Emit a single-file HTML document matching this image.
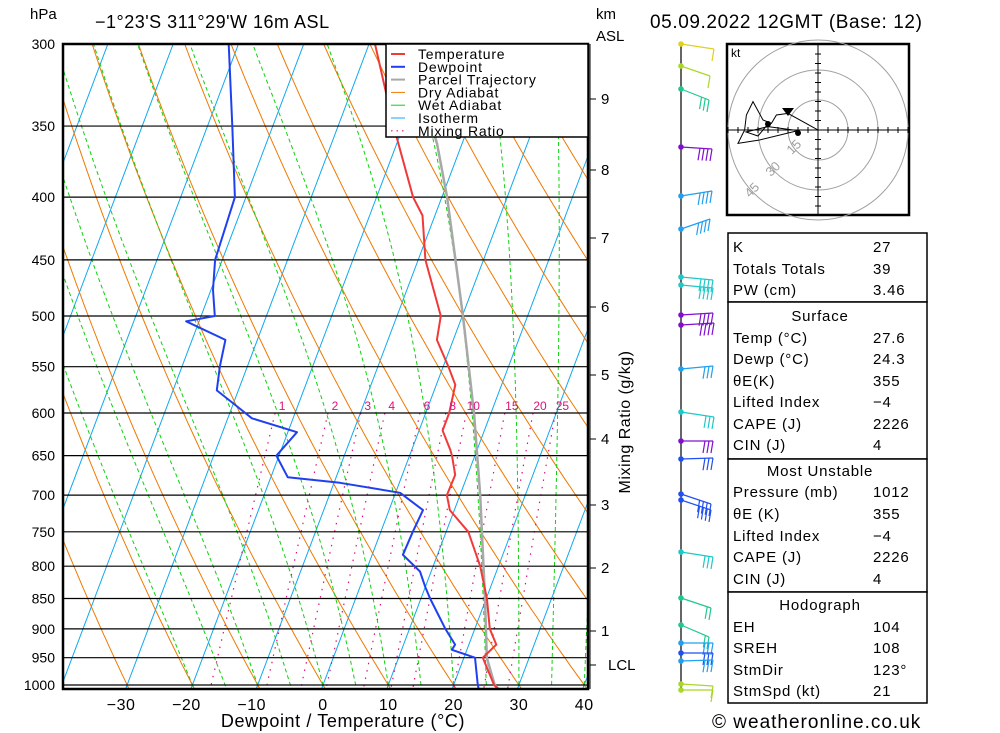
<!DOCTYPE html>
<html><head><meta charset="utf-8"><style>
html,body{margin:0;padding:0;background:#fff;}
svg{display:block;font-family:"Liberation Sans",sans-serif;}
</style></head><body>
<svg id="chart" width="1000" height="733" viewBox="0 0 1000 733" xmlns="http://www.w3.org/2000/svg">
<defs><clipPath id="plotclip"><rect x="63" y="44" width="525" height="645"/></clipPath></defs>
<rect x="0" y="0" width="1000" height="733" fill="#fff"/>
<g id="grid" clip-path="url(#plotclip)"></g>
<g id="isobars"></g>
<g id="profiles" clip-path="url(#plotclip)"></g>
<rect x="63" y="44" width="525" height="645" fill="none" stroke="#000" stroke-width="2.5"/>
<text x="30" y="19" font-size="15">hPa</text>
<text x="95" y="28" font-size="18" letter-spacing="0.5">−1°23'S  311°29'W  16m  ASL</text>
<text x="596" y="19" font-size="15">km</text>
<text x="596" y="41" font-size="15">ASL</text>
<text x="650" y="28" font-size="19" letter-spacing="0.6">05.09.2022  12GMT  (Base: 12)</text>
<text x="343" y="727" font-size="18" text-anchor="middle" letter-spacing="0.6">Dewpoint / Temperature (°C)</text>
<text transform="translate(630,422) rotate(-90)" font-size="16" text-anchor="middle" letter-spacing="0.5">Mixing Ratio (g/kg)</text>
<text x="712" y="728" font-size="19" letter-spacing="1">© weatheronline.co.uk</text>
<g id="legend">
<rect x="386" y="44" width="202" height="93" fill="#fff" stroke="#000" stroke-width="1.5"/>
</g>
<g id="km"></g>
<g id="winds"></g>
<g id="hodo"></g>
<g id="table"></g>
</svg>
<script>
// ---- data ----
const pressLevels=[300,350,400,450,500,550,600,650,700,750,800,850,900,950,1000];
const tempP=[300,350,400,414,450,500,523,550,569,600,620,643,650,674,700,720,750,800,850,900,927,950,1000,1012];
const tempT=[-29.1,-21.5,-14.4,-11.9,-8.9,-3.3,-2.5,0.8,2.9,3.6,3.6,5.9,6.5,8.1,8.0,9.3,13.4,17.2,20.1,22.3,24.2,22.9,26.2,27.6];
const dewP=[300,350,400,450,476,500,505,523,550,575,592,606,622,650,677,684,697,720,750,783,808,832,850,900,927,936,950,1000,1012];
const dewT=[-51.5,-46.2,-41.7,-41.1,-39.7,-37.9,-42.0,-34.9,-34.2,-33.3,-29.4,-26.3,-18.6,-20.4,-17.4,-9.1,0.7,5.2,4.9,4.7,8.3,10.0,11.4,15.5,17.9,17.7,21.7,23.7,24.3];
const parcelP=[300,362,400,500,600,700,850,950,1000,1012];
const parcelT=[-24.0,-13.8,-9.2,0.1,7.4,13.1,19.8,23.5,26.3,27.6];
const tempTicks=[-30,-20,-10,0,10,20,30,40];
const mixRatios=[1,2,3,4,6,8,10,15,20,25];
const kmLevels=[9,8,7,6,5,4,3,2,1];
const kmY=[99,170,238,307,375,439,505,568,631];
const hodoU=[0,-15,-20.8,-23.3,-27.5,-32.5,-35.8,-36.7,-40,-29.2,-10,-25,-36,-30,-25];
const hodoV=[0,8.3,7.5,3.3,5,14.2,7.5,0,-6.7,-5,-0.3,1.7,-1,-3,3];
// [y, colour, end dx, end dy, ticks]
const barbs=[[44,'#e0d020',33,5,1],[66,'#a8d828',29,10,1],[89,'#20c890',28,11,3],[147,'#8010d0',31,2,4],[196,'#20a0f0',31,-5,4],[229,'#20a0f0',29,-10,4],[277,'#20c8c8',32,3,4],[285,'#20c8c8',32,3,4],[315,'#8010d0',32,-2,4],[325,'#8010d0',33,-2,4],[369,'#20a0f0',32,-3,3],[412,'#20c8c8',33,5,3],[441,'#8010d0',32,0,3],[459,'#2050f0',32,-1,3],[494,'#2050f0',30,10,4],[500,'#2050f0',30,10,4],[552,'#20c8c8',32,5,3],[598,'#20c890',30,10,2],[625,'#20c890',28,12,2],[643,'#20a0f0',32,0,3],[653,'#2050f0',32,0,3],[661,'#20a0f0',32,-1,3],[684,'#a8d828',32,2,1],[690,'#a8d828',32,0,1]];
const tableLabels=['K','Totals Totals','PW (cm)','Temp (°C)','Dewp (°C)','θE(K)','Lifted Index','CAPE (J)','CIN (J)','Pressure (mb)','θE (K)','Lifted Index','CAPE (J)','CIN (J)','EH','SREH','StmDir','StmSpd (kt)'];
const tableValues=['27','39','3.46','27.6','24.3','355','−4','2226','4','1012','355','−4','2226','4','104','108','123°','21'];
const tableRowY=[252,274,295,343,364,386,407,429,450,497,519,541,562,584,632,653,675,696];

// ---- axes ----
const NS='http://www.w3.org/2000/svg';
function yP(p){return 44+532.4*Math.log(p/300);}
function xT(T,p){return 323+6.53*T+0.3775*(685-yP(p));}
function mk(tag,attrs,parent){const e=document.createElementNS(NS,tag);for(const k in attrs)e.setAttribute(k,attrs[k]);parent.appendChild(e);return e;}
function pathFrom(pts){return pts.map((q,i)=>(i?'L':'M')+q[0].toFixed(1)+','+q[1].toFixed(1)).join('');}
const grid=document.getElementById('grid');
const samp=[];for(let p=1040;p>=290;p-=10)samp.push(p);
for(let T=-120;T<=40;T+=10){
 const e=mk('line',{x1:xT(T,1040),y1:yP(1040),x2:xT(T,290),y2:yP(290),stroke:'#10a8f0','stroke-width':1},grid);
 
 
}
for(let th=-40;th<=160;th+=10){
 const pts=samp.map(p=>[xT((th+273.15)*Math.pow(p/1000,0.2857)-273.15,p),yP(p)]);
 const e=mk('path',{d:pathFrom(pts),fill:'none',stroke:'#f07800','stroke-width':1},grid);
 
 
}
function es(T){return 6.112*Math.exp(17.67*T/(T+243.5));}
function dTdp(T,p){const Tk=T+273.15,rs=0.622*es(T)/(p-es(T));const Rd=287,cp=1005,L=2.5e6;return (Rd*Tk+L*rs)/(p*(cp+L*L*rs*0.622/(Rd*Tk*Tk)));}
for(let tw=-20;tw<=40;tw+=5){
 let pts=[];let T=tw;
 for(let p=1000;p>=290;p-=2){if(p%10===0)pts.push([xT(T,p),yP(p)]);T-=dTdp(T,p)*2;}
 T=tw;const low=[];for(let p=1000;p<=1040;p+=2){T+=dTdp(T,p)*2;if(p%10===8)low.push([xT(T,p+2),yP(p+2)]);}
 pts=low.reverse().concat(pts);
 const e=mk('path',{d:pathFrom(pts),fill:'none',stroke:'#10d010','stroke-width':1,'stroke-dasharray':'4,3'},grid);
 
 
}
function tMix(w,p){const e=w/1000*p/(0.622+w/1000);const l=Math.log(e/6.112);return 243.5*l/(17.67-l);}
mixRatios.forEach(w=>{
 const pts=[];for(let p=600;p<=1010;p+=10)pts.push([xT(tMix(w,p),p),yP(p)]);
 const e=mk('path',{d:pathFrom(pts),fill:'none',stroke:'#e0107a','stroke-width':1.2,'stroke-dasharray':'1.5,6'},grid);
 
 
 const t=mk('text',{x:xT(tMix(w,600),600)+7,y:yP(600)-3,'font-size':12,fill:'#e0107a','text-anchor':'middle'},document.getElementById('chart'));
 t.textContent=w;
 
 
});
const iso=document.getElementById('isobars');
pressLevels.forEach(p=>{
 const e=mk('line',{x1:63,x2:588,y1:yP(p),y2:yP(p),stroke:'#000','stroke-width':1.2},iso);
 
 
 const t=mk('text',{x:55,y:yP(p)+5,'font-size':14,'text-anchor':'end'},iso);
 t.textContent=p;
 
 
});
tempTicks.forEach(T=>{
 const t=mk('text',{x:xT(T,1000)-(T<0?6:0),y:710,'font-size':16,'text-anchor':'middle','letter-spacing':'0.5'},iso);
 t.textContent=(T<0?'−':'')+Math.abs(T);
 
 
});
const prof=document.getElementById('profiles');
function profile(P,T,color,w,name){
 const e=mk('path',{d:pathFrom(P.map((p,i)=>[xT(T[i],p),yP(p)])),fill:'none',stroke:color,'stroke-width':w,'stroke-linejoin':'round'},prof);
 
 
}
profile(parcelP,parcelT,'#a8a8a8',2.5,'parcel-trajectory');
profile(tempP,tempT,'#f03a3a',2,'temperature-line');
profile(dewP,dewT,'#2040f0',2,'dewpoint-line');
const leg=document.getElementById('legend');
const legItems=[['Temperature','#f03a3a',2,''],['Dewpoint','#2040f0',2,''],['Parcel Trajectory','#a8a8a8',2,''],['Dry Adiabat','#f07800',1,''],['Wet Adiabat','#10d010',1,''],['Isotherm','#10a8f0',1,''],['Mixing Ratio','#e0107a',1.2,'1.5,4']];
legItems.forEach((it,i)=>{
 const y=54+i*12.8;
 const l=mk('line',{x1:391,x2:405,y1:y,y2:y,stroke:it[1],'stroke-width':it[2],'stroke-dasharray':it[3]},leg);
 
 
 const t=mk('text',{x:418,y:y+5,'font-size':14,'letter-spacing':'0.8'},leg);
 t.textContent=it[0];
 
 
});
const km=document.getElementById('km');
const kl=mk('line',{x1:590,x2:590,y1:44,y2:689,stroke:'#000','stroke-width':1},km);


kmLevels.forEach((k,i)=>{
 const tk=mk('line',{x1:590,x2:596,y1:kmY[i],y2:kmY[i],stroke:'#000'},km);
 
 
 const t=mk('text',{x:601,y:kmY[i]+5,'font-size':15},km);
 t.textContent=k;
 
 
});
const lt=mk('line',{x1:590,x2:596,y1:665,y2:665,stroke:'#000'},km);


const lcl=mk('text',{x:608,y:670,'font-size':15},km);
lcl.textContent='LCL';


const wg=document.getElementById('winds');
const staff=mk('line',{x1:681,x2:681,y1:44,y2:692,stroke:'#000','stroke-width':1.2},wg);


barbs.forEach(b=>{
 const [y,c,dx,dy,n]=b;const g=mk('g',{},wg);
 
 
 mk('line',{x1:681,y1:y,x2:681+dx,y2:y+dy,stroke:c,'stroke-width':1.2},g);
 const len=Math.hypot(dx,dy);const ux=dx/len,uy=dy/len;
 for(let i=0;i<n;i++){const bx=681+dx-ux*i*4,by=y+dy-uy*i*4;mk('line',{x1:bx,y1:by,x2:bx-2,y2:by+12,stroke:c,'stroke-width':1.2},g);}
 mk('circle',{cx:681,cy:y,r:2.8,fill:c},g);
});
const hg=document.getElementById('hodo');
const hb=mk('rect',{x:727,y:44,width:182,height:171,fill:'#fff',stroke:'#000','stroke-width':2.5},hg);


const cx=818,cy=130,sc=2;
[15,30,45].forEach(r=>{const c=mk('circle',{cx:cx,cy:cy,r:r*sc,fill:'none',stroke:'#a0a0a0'},hg);});
const hx=mk('line',{x1:727,x2:909,y1:cy,y2:cy,stroke:'#000'},hg);


const hy=mk('line',{x1:cx,x2:cx,y1:44,y2:215,stroke:'#000'},hg);


for(let k=-45;k<=45;k+=5){if(!k)continue;mk('line',{x1:cx+k*sc,x2:cx+k*sc,y1:cy-3,y2:cy+3,stroke:'#000'},hg);mk('line',{x1:cx-3,x2:cx+3,y1:cy+k*sc*0.95,y2:cy+k*sc*0.95,stroke:'#000'},hg);}
[['15',-21,20],['30',-42,42],['45',-63,63]].forEach(a=>{const t=mk('text',{x:cx+a[1],y:cy+a[2],'font-size':13,fill:'#a0a0a0',transform:'rotate(-45 '+(cx+a[1])+' '+(cy+a[2])+')','text-anchor':'middle'},hg);t.textContent=a[0];});
const kt=mk('text',{x:731,y:57,'font-size':12},hg);kt.textContent='kt';


const ht=mk('path',{d:pathFrom(hodoU.map((u,i)=>[cx+u*sc,cy-hodoV[i]*sc])),fill:'none',stroke:'#000','stroke-width':1},hg);


const tri=mk('path',{d:'M'+(cx-15*sc-6)+','+(cy-9*sc-4)+'l12,0l-6,8z',fill:'#000'},hg);


[[-25,3],[-10,-1.5]].forEach(m=>{const d=mk('circle',{cx:cx+m[0]*sc,cy:cy-m[1]*sc,r:3,fill:'#000'},hg);});
const tb=document.getElementById('table');
[[233,302],[302,459],[459,592],[592,703]].forEach(s=>{const r=mk('rect',{x:728,y:s[0],width:199,height:s[1]-s[0],fill:'#fff',stroke:'#000','stroke-width':1.5},tb);});
[['Surface',321],['Most Unstable',476],['Hodograph',610]].forEach(h=>{const t=mk('text',{x:820,y:h[1],'font-size':15,'text-anchor':'middle','letter-spacing':'0.8'},tb);t.textContent=h[0];});
tableLabels.forEach((l,i)=>{
 const t=mk('text',{x:733,y:tableRowY[i],'font-size':15,'letter-spacing':'0.8'},tb);t.textContent=l;
 
 
 const v=mk('text',{x:873,y:tableRowY[i],'font-size':15,'letter-spacing':'0.8'},tb);v.textContent=tableValues[i];
 
 
});
</script>
</body></html>
